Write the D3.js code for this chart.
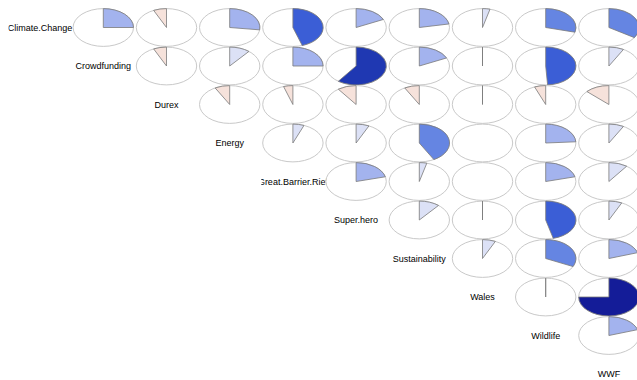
<!DOCTYPE html>
<html>
<head>
<meta charset="utf-8">
<script src="https://cdn.jsdelivr.net/npm/d3@7"></script>
<style>
  html, body { margin: 0; padding: 0; background: #fff; }
  svg { display: block; }
</style>
</head>
<body>
<svg id="chart" width="637" height="380"></svg>
<script>
// Variables shown along the diagonal
const variables = ["Climate.Change", "Crowdfunding", "Durex", "Energy", "Great.Barrier.Rief",
                   "Super.hero", "Sustainability", "Wales", "Wildlife", "WWF"];

// Upper-triangle correlations: each array holds a variable's correlations
// with every variable that follows it (null = not available)
const corClimateChange    = [0.25, -0.07, 0.27, 0.45, 0.18, 0.22, 0.04, 0.29, 0.34];
const corCrowdfunding     = [-0.07, 0.11, 0.25, 0.60, 0.18, 0.00, 0.49, 0.08];
const corDurex            = [-0.08, -0.05, -0.10, -0.08, 0.00, -0.06, -0.13];
const corEnergy           = [0.06, 0.07, 0.42, null, 0.24, 0.08];
const corGreatBarrierRief = [0.21, 0.04, null, 0.21, 0.10];
const corSuperHero        = [0.11, 0.00, 0.46, 0.07];
const corSustainability   = [0.07, 0.32, 0.20];
const corWales            = [0.00, 0.75];
const corWildlife         = [0.20];

const upperRows = [corClimateChange, corCrowdfunding, corDurex, corEnergy, corGreatBarrierRief,
                   corSuperHero, corSustainability, corWales, corWildlife];

// Flatten into cell records
const cells = [];
upperRows.forEach((row, i) => {
  row.forEach((v, k) => {
    const j = i + 1 + k;
    cells.push({ row: variables[i], col: variables[j], value: v });
  });
});

const svg = d3.select("#chart");

const x = d3.scaleBand().domain(variables).range([8.5, 640.5]);
const y = d3.scaleBand().domain(variables).range([8.25, 393.25]);
const cx = v => x(v) + x.bandwidth() / 2;
const cy = v => y(v) + y.bandwidth() / 2;
const rx = 30.2, ry = 18.9;

// Binned colour scale: reds for negative, blues getting darker with strength
const color = d3.scaleThreshold()
  .domain([0, 0.15, 0.28, 0.44, 0.56, 0.7])
  .range(["#F6E2DB", "#DCE1F6", "#A3B3EE", "#6585E2", "#3B5ED6", "#1F38B2", "#141C98"]);

const tau = 2 * Math.PI;
const arc = d3.arc()
  .innerRadius(0)
  .outerRadius(1)
  .startAngle(d => Math.min(0, d.value * tau))
  .endAngle(d => Math.max(0, d.value * tau));

// Diagonal labels, clipped on the left at their own cell's edge
const defs = svg.append("defs");
variables.forEach((v, i) => {
  defs.append("clipPath").attr("id", "lab" + i)
    .append("rect")
    .attr("x", x(v)).attr("y", y(v))
    .attr("width", x.bandwidth() + 20).attr("height", y.bandwidth());
});

svg.append("g").selectAll("text")
  .data(variables)
  .join("text")
  .attr("clip-path", (d, i) => `url(#lab${i})`)
  .attr("x", d => cx(d))
  .attr("y", d => cy(d))
  .attr("dy", "0.35em")
  .attr("text-anchor", "middle")
  .attr("font-family", "'Liberation Sans', Arial, sans-serif")
  .attr("font-size", 9)
  .attr("fill", "#000")
  .text(d => d);

// Cells: background ellipse plus pie sector
const cellG = svg.append("g").selectAll("g")
  .data(cells)
  .join("g")
  .attr("transform", d => `translate(${cx(d.col)},${cy(d.row)})`);

cellG.append("ellipse")
  .attr("rx", rx).attr("ry", ry)
  .attr("fill", "#fff")
  .attr("stroke", "#c9c9c9")
  .attr("stroke-width", 1);

cellG.filter(d => d.value !== null)
  .append("path")
  .attr("transform", `scale(${rx},${ry})`)
  .attr("d", d => arc(d))
  .attr("fill", d => color(d.value))
  .attr("stroke", "#7a7a7a")
  .attr("stroke-width", 0.8)
  .attr("vector-effect", "non-scaling-stroke");
</script>
</body>
</html>
